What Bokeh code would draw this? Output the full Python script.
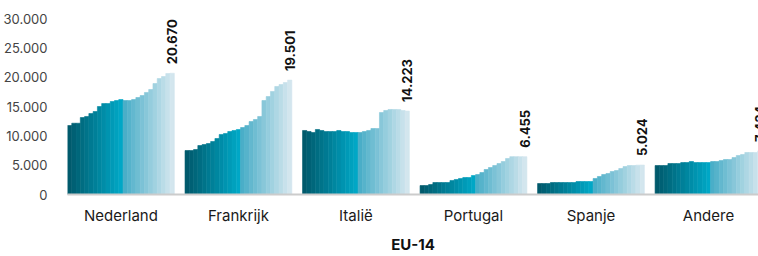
import math
from bokeh.plotting import figure
from bokeh.models import ColumnDataSource, Range1d, FixedTicker
from bokeh.core.properties import value
from bokeh.embed import file_html
from bokeh.resources import INLINE

# ---- data -------------------------------------------------------------
countries = ["Nederland", "Frankrijk", "Italië", "Portugal", "Spanje", "Andere"]

nederland = [11760, 12150, 12150, 13120, 13300, 13800, 14150, 15000, 15500, 15500,
             15850, 16020, 16190, 16020, 16020, 16190, 16530, 16870, 17390, 17900,
             18920, 19770, 20110, 20620, 20670]
frankrijk = [7500, 7500, 7670, 8350, 8520, 8690, 9030, 9545, 10230, 10400,
             10740, 10910, 11080, 11420, 11760, 12440, 12780, 13300, 16020, 16700,
             17560, 18410, 18750, 19090, 19501]
italie = [10910, 10740, 10570, 11080, 10910, 10740, 10740, 10740, 10910, 10740,
          10740, 10570, 10570, 10570, 10740, 10910, 11250, 11250, 13980, 14320,
          14490, 14490, 14490, 14320, 14223]
portugal = [1530, 1530, 1700, 2045, 2045, 2045, 2045, 2390, 2560, 2730,
            2900, 2900, 3240, 3400, 3750, 4260, 4600, 4940, 5280, 5625,
            6136, 6455, 6455, 6455, 6455]
spanje = [1875, 1875, 1875, 2045, 2045, 2045, 2045, 2045, 2045, 2216,
          2216, 2216, 2216, 2730, 3070, 3410, 3580, 3920, 4090, 4430,
          4770, 4940, 4940, 5000, 5024]
andere = [4940, 4940, 4940, 5280, 5280, 5280, 5450, 5450, 5625, 5450,
          5450, 5450, 5450, 5625, 5625, 5800, 5965, 5965, 6300, 6650,
          6820, 7160, 7160, 7160, 7434]
series = [nederland, frankrijk, italie, portugal, spanje, andere]

y_ticks = [0, 5000, 10000, 15000, 20000, 25000, 30000]
y_tick_labels = ["0", "5.000", "10.000", "15.000", "20.000", "25.000", "30.000"]
axis_title = "EU-14"

# ---- styling helpers ---------------------------------------------------
def hx(c):
    return tuple(int(c[i:i + 2], 16) for i in (1, 3, 5))

def lerp(c1, c2, t):
    a, b = hx(c1), hx(c2)
    return "#%02x%02x%02x" % tuple(round(a[k] + (b[k] - a[k]) * t) for k in range(3))

n = len(nederland)
n_dark = 13
bar_colors = []
for j in range(n):
    if j < n_dark:
        bar_colors.append(lerp("#005a6c", "#00a7c6", j / (n_dark - 1)))
    else:
        bar_colors.append(lerp("#4aaec8", "#d3e6ee", (j - n_dark) / (n - n_dark - 1)))

pitch = 27.5
xs, tops, cols = [], [], []
for i, vals in enumerate(series):
    for j, v in enumerate(vals):
        xs.append(i * pitch + j + 0.5)
        tops.append(v)
        cols.append(bar_colors[j])
src = ColumnDataSource(dict(x=xs, top=tops, color=cols))

lab_x = [i * pitch + n - 0.5 for i in range(len(series))]
lab_y = [vals[-1] for vals in series]
lab_t = [f"{v:,}".replace(",", ".") for v in lab_y]
lab_src = ColumnDataSource(dict(x=lab_x, y=lab_y, t=lab_t))

centers = [i * pitch + n / 2 for i in range(len(series))]

FONT = "Inter"

# frame: 176 px for 0..30000, plus 8 px headroom above so labels are not clipped
y_top = 30000 * 184 / 176

p = figure(width=758, height=256, x_range=Range1d(0, 161.7), y_range=Range1d(0, y_top),
           output_backend="svg", toolbar_location=None,
           min_border_left=66, min_border_right=0, min_border_top=10, min_border_bottom=0)
p.outline_line_color = None
p.background_fill_color = "white"
p.border_fill_color = "white"
p.xgrid.visible = False
p.ygrid.visible = False

p.vbar(x="x", top="top", width=1.0, fill_color="color", line_color="color",
       line_width=0.6, source=src)

p.text(x="x", y="y", text="t", source=lab_src, angle=math.pi / 2,
       text_align="left", text_baseline="middle", y_offset=-9,
       text_font=value(FONT), text_font_style="bold", text_font_size="13px",
       text_color="#111111")

# y axis
p.yaxis.ticker = FixedTicker(ticks=y_ticks)
p.yaxis.major_label_overrides = {t: l for t, l in zip(y_ticks, y_tick_labels)}
p.yaxis.axis_line_color = None
p.yaxis.major_tick_line_color = None
p.yaxis.minor_tick_line_color = None
p.yaxis.major_label_standoff = 14
p.yaxis.major_label_text_font = FONT
p.yaxis.major_label_text_font_size = "13px"
p.yaxis.major_label_text_color = "#444444"

# x axis
p.xaxis.ticker = FixedTicker(ticks=centers)
p.xaxis.major_label_overrides = {c: name for c, name in zip(centers, countries)}
p.xaxis.axis_line_color = "#cccccc"
p.xaxis.axis_line_width = 2
p.xaxis.major_tick_line_color = None
p.xaxis.minor_tick_line_color = None
p.xaxis.major_tick_out = 0
p.xaxis.major_label_standoff = 11
p.xaxis.major_label_text_font = FONT
p.xaxis.major_label_text_font_size = "15px"
p.xaxis.major_label_text_color = "#1a1a1a"
p.xaxis.axis_label = axis_title
p.xaxis.axis_label_text_font = FONT
p.xaxis.axis_label_text_font_style = "bold"
p.xaxis.axis_label_text_font_size = "15px"
p.xaxis.axis_label_text_color = "#111111"
p.xaxis.axis_label_standoff = 7

open("out.html", "w").write(file_html(p, INLINE))
